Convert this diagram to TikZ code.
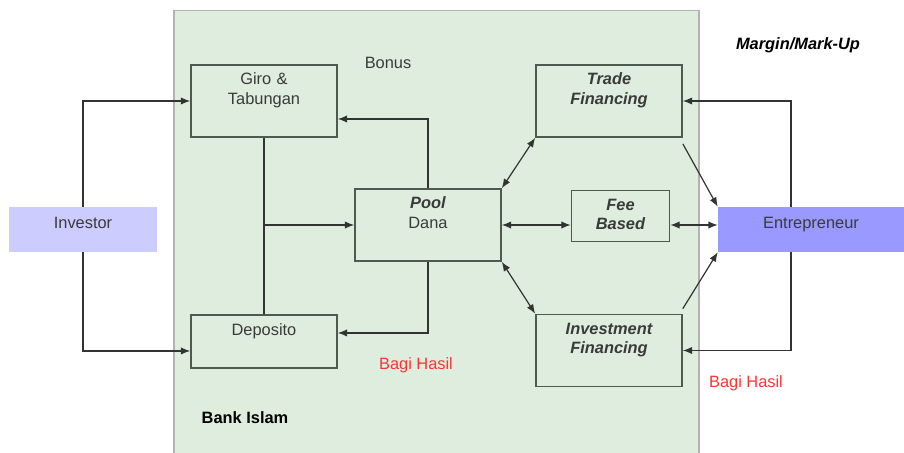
\documentclass[tikz,border=0pt]{standalone}
\usepackage{fontspec}
\setmainfont{Liberation Sans}
\usepackage{xcolor}
\usetikzlibrary{arrows.meta,backgrounds}

\definecolor{bankgreen}{RGB}{222,237,222}
\definecolor{investorblue}{RGB}{204,204,255}
\definecolor{entreblue}{RGB}{153,153,255}
\definecolor{boxline}{RGB}{78,90,78}
\definecolor{bagired}{RGB}{255,51,51}
\definecolor{textgray}{RGB}{58,58,58}

\begin{document}
\begin{tikzpicture}[
    x=0.75pt, y=-0.75pt,
    >={Latex[length=7pt,width=5.5pt]},
    font=\fontsize{12.3}{14.25}\selectfont,
    every node/.style={text=textgray},
    box/.style={draw=boxline, line width=1.2pt, inner sep=0pt, align=center,
        text width=109.5pt, text height=15pt},
    party/.style={inner sep=0pt, align=center, text width=#1,
        text height=16pt, text depth=17.75pt},
    link/.style={draw=black!80, line width=0.9pt}
]
\useasboundingbox (0,0) rectangle (904,453);
\begin{scope}[on background layer]
\node[fill=bankgreen, draw=gray!60, line width=0.8pt, inner sep=0pt,
    minimum width=393.75pt, minimum height=333pt] (bank) at (436.5,232.5) {};
\end{scope}

% the two parties outside the bank
\node[party=111pt, fill=investorblue] (inv) at (83,229.5) {Investor};
\node[party=139.5pt, fill=entreblue] (ent) at (811,229.5) {Entrepreneur};

% funds side
\node[box, text depth=39pt] (giro) at (264,101) {Giro \&\\Tabungan};
\node[box, text depth=24.75pt] (depo) at (264,341.5) {Deposito};
\node[box, text depth=39pt] (pool) at (428,225) {\textbf{\textit{Pool}}\\Dana};

% financing side
\node[box, text depth=39pt] (trade) at (609,101) {\bfseries\itshape Trade\\Financing};
\node[box, text width=73.5pt, text depth=23.25pt] (fee) at (620.5,216) {\bfseries\itshape Fee\\Based};
\node[box, text depth=39pt] (invest) at (609,350.5) {\bfseries\itshape Investment\\Financing};

% labels
\node (bonus) at (388,63) {Bonus};
\node[text=bagired] (bagi1) at (416,365) {Bagi Hasil};
\node[text=bagired] (bagi2) at (746,383) {Bagi Hasil};
\node[text=black] (margin) at (798,45) {\bfseries\itshape Margin/Mark-Up};
\node[text=black] (bankname) at (245,418) {\bfseries Bank Islam};

\begin{scope}[on background layer]
\draw[link,->] (inv.center) |- (giro.west);
\draw[link,->] (inv.center) |- ([yshift=-7.1pt]depo.west);
\draw[link] (giro.south) -- (depo.north);
\draw[link,->] (giro.south |- pool.west) -- (pool.west);
\draw[link,->] (pool.north) |- ([yshift=-13.5pt]giro.east);
\draw[link,->] (pool.south) |- ([yshift=6.4pt]depo.east);
\draw[link,<->] (pool.north east) -- (trade.south west);
\draw[link,<->] (pool.south east) -- (invest.north west);
\draw[link,<->] (pool.east) -- (pool.east -| fee.west);
\draw[link,<->] (pool.east -| fee.east) -- (pool.east -| ent.west);
\draw[link,->] ([yshift=-4.5pt]trade.south east) -- (ent.north west);
\draw[link,->] ([yshift=3.75pt]invest.north east) -- (ent.south west);
\draw[link,->] ([xshift=-15pt]ent.center) |- (trade.east);
\draw[link,->] ([xshift=-15pt]ent.center) |- (invest.east);
\end{scope}
\end{tikzpicture}
\end{document}
